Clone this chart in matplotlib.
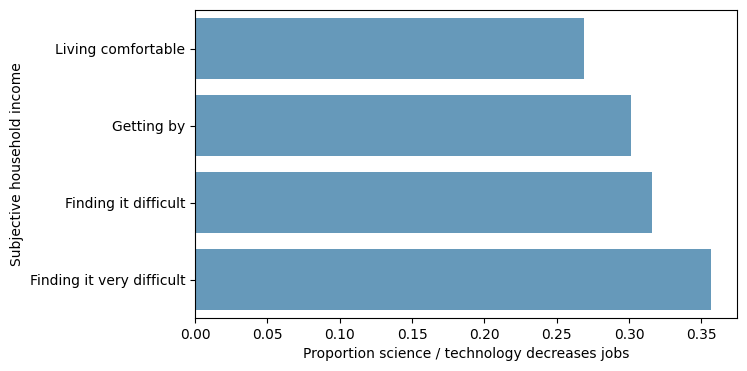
import matplotlib
matplotlib.use('Agg')
import matplotlib.pyplot as plt

categories = ['Living comfortable', 'Getting by', 'Finding it difficult', 'Finding it very difficult']
values = [0.269, 0.3015, 0.316, 0.3567]

fig, ax = plt.subplots(figsize=(7.47, 3.71), dpi=100)
fig.subplots_adjust(left=0.261, right=0.9866, top=0.973, bottom=0.1425)

ax.barh(categories, values, height=0.8, color='#6699ba')
ax.set_ylim(3.5, -0.5)

ax.set_xlabel('Proportion science / technology decreases jobs')
ax.set_ylabel('Subjective household income')

fig.savefig('out.png', dpi=100)
